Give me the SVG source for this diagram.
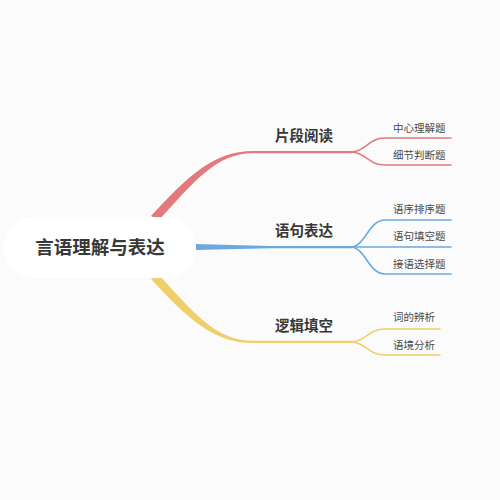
<svg xmlns="http://www.w3.org/2000/svg" width="500" height="500" viewBox="0 0 500 500">
<style>
.bg{fill:#fbfbfb}
.root{fill:#ffffff}
.rt{font-family:"Noto Sans CJK SC","Noto Sans",sans-serif;font-size:18.5px;font-weight:bold;fill:#383838;text-anchor:middle}
.bt{font-family:"Noto Sans CJK SC","Noto Sans",sans-serif;font-size:14.5px;font-weight:bold;fill:#383838}
.lt{font-family:"Noto Sans CJK SC","Noto Sans",sans-serif;font-size:10.5px;fill:#4a4a4a}
.sub{fill:none;stroke-width:1.6;stroke-linecap:round}
.r{stroke:#e27a7d}.b{stroke:#6aaadf}.y{stroke:#efcf6c}
</style>
<rect class="bg" x="0" y="0" width="500" height="500"/>
<g id="connectors">
<path fill="#e27a7d" d="M151,216 C188,176 214,151 253,151 L352,151 L352,153.2 L253,153.2 C216,153.2 194,182 159,220 Z"/>
<path fill="#6aaadf" d="M195,244 L270,246 L352,246 L352,248.2 L270,248.2 L195,250 Z"/>
<path fill="#efcf6c" d="M151,279 C188,319 214,343 253,343 L352,343 L352,340.8 L253,340.8 C216,340.8 194,313 159,275 Z"/>
<path class="sub r" d="M350,152 C366,152 368,138 385,138 L451,138"/>
<path class="sub r" d="M350,152 C366,152 368,165 385,165 L451,165"/>
<path class="sub b" d="M350,247 C366,247 368,220 385,220 L451,220"/>
<path class="sub b" d="M350,247 L451,247"/>
<path class="sub b" d="M350,247 C366,247 368,274 385,274 L451,274"/>
<path class="sub y" d="M350,342 C366,342 368,329 385,329 L440,329"/>
<path class="sub y" d="M350,342 C366,342 368,355 385,355 L440,355"/>
</g>
<g id="root">
<rect class="root" x="4" y="217" width="192" height="61" rx="30"/>
<text class="rt" x="100" y="254">言语理解与表达</text>
</g>
<g id="b1"><text class="bt" x="275" y="141">片段阅读</text></g>
<g id="b2"><text class="bt" x="275" y="236">语句表达</text></g>
<g id="b3"><text class="bt" x="275" y="331">逻辑填空</text></g>
<g id="l1"><text class="lt" x="393" y="132">中心理解题</text></g>
<g id="l2"><text class="lt" x="393" y="159">细节判断题</text></g>
<g id="l3"><text class="lt" x="393" y="213">语序排序题</text></g>
<g id="l4"><text class="lt" x="393" y="240">语句填空题</text></g>
<g id="l5"><text class="lt" x="393" y="268">接语选择题</text></g>
<g id="l6"><text class="lt" x="393" y="321">词的辨析</text></g>
<g id="l7"><text class="lt" x="393" y="349">语境分析</text></g>
</svg>
